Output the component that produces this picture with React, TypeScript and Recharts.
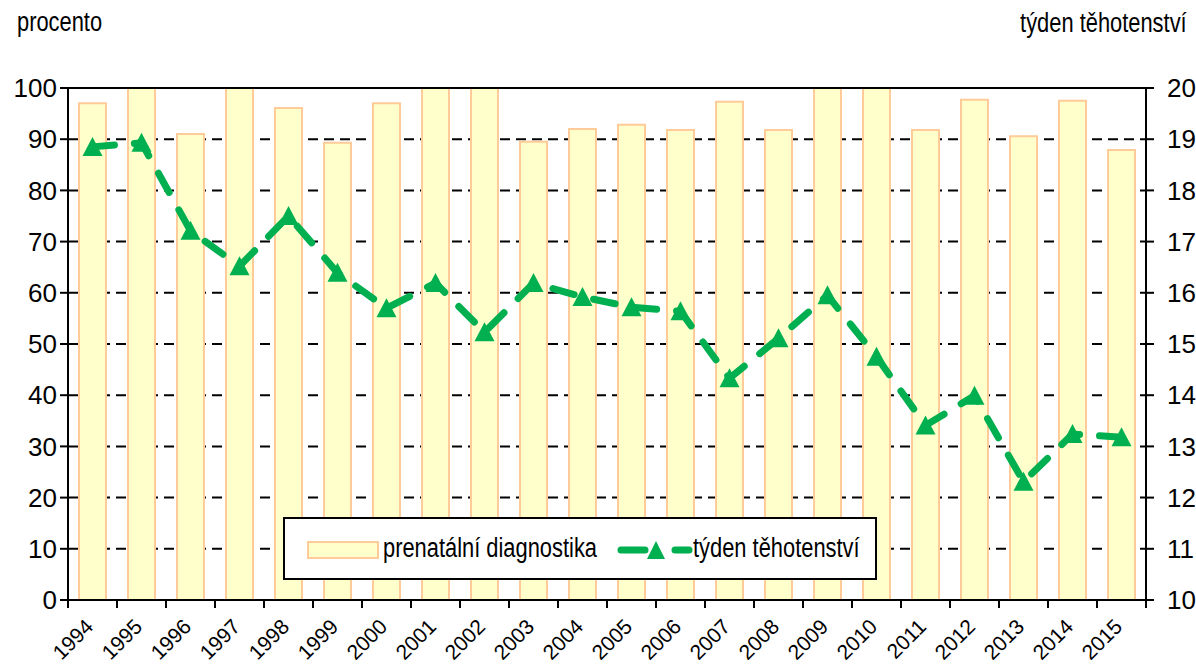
import React from 'react';
import {
  ComposedChart,
  Bar,
  Line,
  XAxis,
  YAxis,
  CartesianGrid,
  ReferenceLine,
  Legend
} from 'recharts';

const years = [
  '1994', '1995', '1996', '1997', '1998', '1999', '2000', '2001', '2002', '2003', '2004',
  '2005', '2006', '2007', '2008', '2009', '2010', '2011', '2012', '2013', '2014', '2015'
];
const prenatal = [
  97, 100, 91, 100, 96.1, 89.3, 97, 100, 100, 89.5, 92,
  92.8, 91.8, 97.3, 91.8, 100, 100, 91.8, 97.7, 90.6, 97.5, 87.9
];
const weeks = [
  18.85, 18.93, 17.21, 16.52, 17.5, 16.39, 15.7, 16.19, 15.23, 16.19, 15.92,
  15.72, 15.64, 14.33, 15.11, 15.95, 14.75, 13.41, 13.99, 12.31, 13.24, 13.18
];
const leftTicks = [0, 10, 20, 30, 40, 50, 60, 70, 80, 90, 100];
const rightTicks = [10, 11, 12, 13, 14, 15, 16, 17, 18, 19, 20];

const data = years.map((year, i) => ({ year, prenatal: prenatal[i], weeks: weeks[i] }));

const W = 1196;
const H = 664;
const LEFT_W = 68;
const RIGHT_W = 50;
const BAND = (W - LEFT_W - RIGHT_W) / years.length;
const GREEN = '#00B050';
const SANS = "'Liberation Sans', Arial, sans-serif";

// Arial Narrow look: regular sans squeezed horizontally
const narrow = (origin: string): React.CSSProperties => ({
  display: 'inline-block',
  fontFamily: SANS,
  fontSize: 27,
  lineHeight: '30px',
  whiteSpace: 'nowrap',
  transform: 'scaleX(0.81)',
  transformOrigin: origin
});

const Triangle = (props: any) => {
  const { cx, cy } = props;
  if (cx == null || cy == null) return null;
  return (
    <polygon
      points={`${cx},${cy - 10} ${cx + 10},${cy + 9} ${cx - 10},${cy + 9}`}
      fill={GREEN}
    />
  );
};

const YearTick = (props: any) => {
  const { x, y, payload, index } = props;
  const ax = x + 2;
  const ay = y + 28;
  return (
    <g>
      <line x1={x - BAND / 2} y1={y} x2={x - BAND / 2} y2={y + 8} stroke="#000" strokeWidth={2} />
      {index === years.length - 1 && (
        <line x1={x + BAND / 2} y1={y} x2={x + BAND / 2} y2={y + 8} stroke="#000" strokeWidth={2} />
      )}
      <text
        x={ax}
        y={ay}
        transform={`rotate(-45 ${ax} ${ay})`}
        textAnchor="end"
        fontSize={21}
        fontFamily={SANS}
        fill="#000"
      >
        {payload.value}
      </text>
    </g>
  );
};

const LegendBox = () => (
  <div
    style={{
      position: 'relative',
      boxSizing: 'border-box',
      width: 594,
      height: 63,
      border: '2px solid #000',
      background: '#fff',
      color: '#000'
    }}
  >
    <svg width={72} height={18} style={{ position: 'absolute', left: 22, top: 22 }}>
      <rect x={1} y={1} width={70} height={16} fill="#FFFFCC" stroke="#FFCC99" strokeWidth={2} />
    </svg>
    <span style={{ ...narrow('left'), position: 'absolute', left: 98, top: 14 }}>
      prenatální diagnostika
    </span>
    <svg width={80} height={24} style={{ position: 'absolute', left: 330, top: 19 }}>
      <line x1={6} y1={12} x2={30} y2={12} stroke={GREEN} strokeWidth={7} strokeLinecap="round" />
      <polygon points="41,3 50,21 32,21" fill={GREEN} />
      <line x1={60} y1={12} x2={74} y2={12} stroke={GREEN} strokeWidth={7} strokeLinecap="round" />
    </svg>
    <span style={{ ...narrow('left'), position: 'absolute', left: 408, top: 14 }}>
      týden těhotenství
    </span>
  </div>
);

export default function App() {
  return (
    <div style={{ position: 'absolute', left: 0, top: 0, width: W, height: H, background: '#fff' }}>
      <span style={{ ...narrow('left'), position: 'absolute', left: 17, top: 7 }}>procento</span>
      <span style={{ ...narrow('right'), position: 'absolute', right: 9, top: 8 }}>týden těhotenství</span>
      <ComposedChart
        width={W}
        height={H}
        data={data}
        margin={{ top: 88, right: 0, bottom: 0, left: 0 }}
        barSize={27}
      >
        <CartesianGrid
          yAxisId="left"
          vertical={false}
          stroke="#000"
          strokeWidth={2}
          strokeDasharray="10 6"
        />
        <ReferenceLine yAxisId="left" y={100} stroke="#000" strokeWidth={2} />
        <XAxis
          dataKey="year"
          height={64}
          interval={0}
          tickLine={false}
          tickSize={0}
          tickMargin={0}
          axisLine={{ stroke: '#000', strokeWidth: 2 }}
          tick={<YearTick />}
        />
        <YAxis
          yAxisId="left"
          width={LEFT_W}
          domain={[0, 100]}
          ticks={leftTicks}
          interval={0}
          tickSize={8}
          tickMargin={3}
          axisLine={{ stroke: '#000', strokeWidth: 2 }}
          tickLine={{ stroke: '#000', strokeWidth: 2 }}
          tick={{ fill: '#000', fontSize: 26, fontFamily: SANS }}
        />
        <YAxis
          yAxisId="right"
          orientation="right"
          width={RIGHT_W}
          domain={[10, 20]}
          ticks={rightTicks}
          interval={0}
          tickSize={8}
          tickMargin={13}
          axisLine={{ stroke: '#000', strokeWidth: 2 }}
          tickLine={{ stroke: '#000', strokeWidth: 2 }}
          tick={{ fill: '#000', fontSize: 26, fontFamily: SANS, textAnchor: 'start' }}
        />
        <Legend
          verticalAlign="middle"
          align="center"
          content={<LegendBox />}
          wrapperStyle={{ left: 283, top: 517, width: 594, height: 63 }}
        />
        <Bar
          yAxisId="left"
          dataKey="prenatal"
          name="prenatální diagnostika"
          fill="#FFFFCC"
          stroke="#FFCC99"
          strokeWidth={2}
          isAnimationActive={false}
        />
        <Line
          yAxisId="right"
          dataKey="weeks"
          name="týden těhotenství"
          stroke={GREEN}
          strokeWidth={7}
          strokeDasharray="22 20"
          strokeLinecap="round"
          dot={<Triangle />}
          activeDot={false}
          isAnimationActive={false}
        />
      </ComposedChart>
    </div>
  );
}
